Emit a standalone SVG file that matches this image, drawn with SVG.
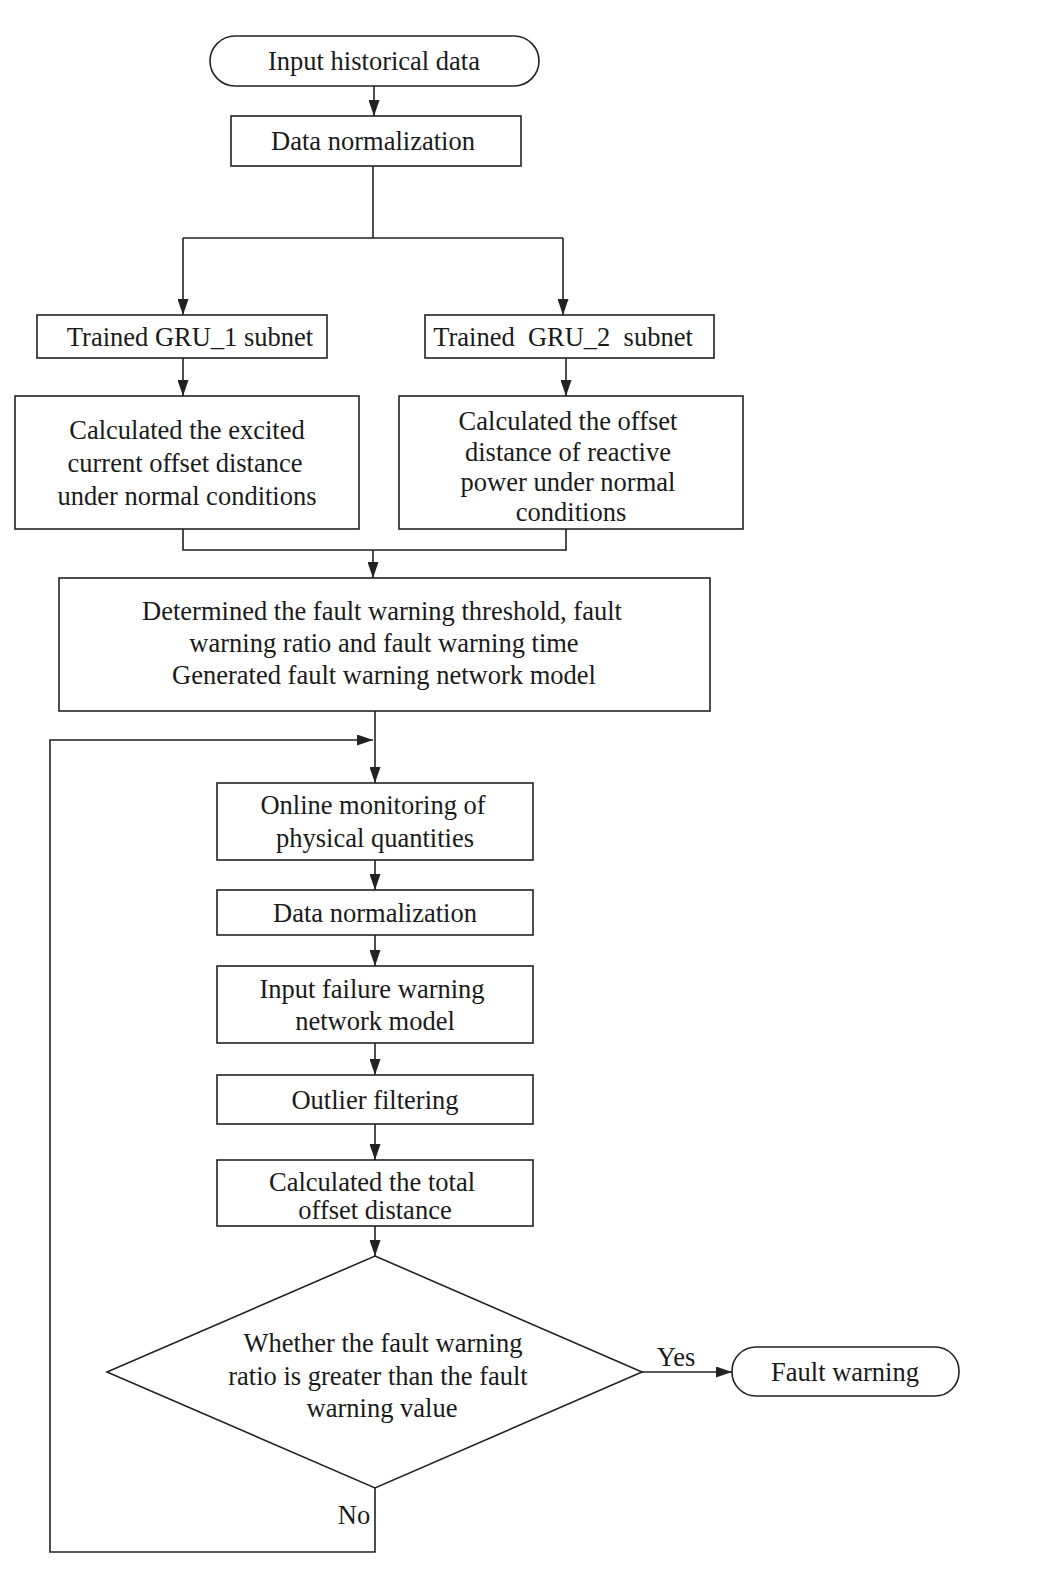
<svg xmlns="http://www.w3.org/2000/svg" width="1042" height="1586" viewBox="0 0 1042 1586">
<style>
.n{fill:#fff;stroke:#222;stroke-width:1.6}
.t{font-family:"Liberation Serif","Times New Roman",serif;font-size:26.5px;fill:#1a1a1a;text-anchor:middle}
.c{fill:none;stroke:#222;stroke-width:1.6}
</style>
<defs>
<marker id="a" viewBox="0 0 16 11" refX="16" refY="5.5" markerWidth="16" markerHeight="11" markerUnits="userSpaceOnUse" orient="auto">
<path d="M0,0 L16,5.5 L0,11 Z" fill="#222"/>
</marker>
</defs>
<rect width="1042" height="1586" fill="#fff"/>
<g id="connectors">
<line class="c" x1="374" y1="86" x2="374" y2="116" marker-end="url(#a)"/>
<polyline class="c" points="373,166 373,238"/>
<polyline class="c" points="183,238 563,238"/>
<line class="c" x1="183" y1="238" x2="183" y2="315" marker-end="url(#a)"/>
<line class="c" x1="563" y1="238" x2="563" y2="315" marker-end="url(#a)"/>
<line class="c" x1="183" y1="358" x2="183" y2="396" marker-end="url(#a)"/>
<line class="c" x1="566" y1="358" x2="566" y2="396" marker-end="url(#a)"/>
<polyline class="c" points="183,529 183,550 566,550 566,529"/>
<line class="c" x1="373" y1="550" x2="373" y2="578" marker-end="url(#a)"/>
<line class="c" x1="375" y1="711" x2="375" y2="783" marker-end="url(#a)"/>
<line class="c" x1="375" y1="860" x2="375" y2="890" marker-end="url(#a)"/>
<line class="c" x1="375" y1="935" x2="375" y2="966" marker-end="url(#a)"/>
<line class="c" x1="375" y1="1043" x2="375" y2="1075" marker-end="url(#a)"/>
<line class="c" x1="375" y1="1124" x2="375" y2="1160" marker-end="url(#a)"/>
<line class="c" x1="375" y1="1226" x2="375" y2="1256" marker-end="url(#a)"/>
<line class="c" x1="642" y1="1372" x2="732" y2="1372" marker-end="url(#a)"/>
<polyline class="c" points="375,1488 375,1552 50,1552 50,740 373,740" marker-end="url(#a)"/>
<text class="t" x="676" y="1366">Yes</text>
<text class="t" x="354" y="1524">No</text>
</g>
<g id="start">
<rect class="n" x="210" y="36" width="329" height="50" rx="25"/>
<text class="t" x="374" y="70">Input historical data</text>
</g>
<g id="norm1">
<rect class="n" x="231" y="116" width="290" height="50"/>
<text class="t" x="373" y="150">Data normalization</text>
</g>
<g id="gru1">
<rect class="n" x="37" y="315" width="290" height="43"/>
<text class="t" x="190" y="346">Trained GRU_1 subnet</text>
</g>
<g id="gru2">
<rect class="n" x="425" y="315" width="289" height="43"/>
<text class="t" x="563" y="346" xml:space="preserve" style="white-space:pre">Trained  GRU_2  subnet</text>
</g>
<g id="calc1">
<rect class="n" x="15" y="396" width="344" height="133"/>
<text class="t" x="187" y="439">Calculated the excited</text>
<text class="t" x="185" y="472">current offset distance</text>
<text class="t" x="187" y="505">under normal conditions</text>
</g>
<g id="calc2">
<rect class="n" x="399" y="396" width="344" height="133"/>
<text class="t" x="568" y="430">Calculated the offset</text>
<text class="t" x="568" y="461">distance of reactive</text>
<text class="t" x="568" y="491">power under normal</text>
<text class="t" x="571" y="521">conditions</text>
</g>
<g id="determine">
<rect class="n" x="59" y="578" width="651" height="133"/>
<text class="t" x="382" y="620">Determined the fault warning threshold, fault</text>
<text class="t" x="384" y="652">warning ratio and fault warning time</text>
<text class="t" x="384" y="684">Generated fault warning network model</text>
</g>
<g id="online">
<rect class="n" x="217" y="783" width="316" height="77"/>
<text class="t" x="373" y="814">Online monitoring of</text>
<text class="t" x="375" y="847">physical quantities</text>
</g>
<g id="norm2">
<rect class="n" x="217" y="890" width="316" height="45"/>
<text class="t" x="375" y="922">Data normalization</text>
</g>
<g id="inputmodel">
<rect class="n" x="217" y="966" width="316" height="77"/>
<text class="t" x="372" y="998">Input failure warning</text>
<text class="t" x="375" y="1030">network model</text>
</g>
<g id="outlier">
<rect class="n" x="217" y="1075" width="316" height="49"/>
<text class="t" x="375" y="1109">Outlier filtering</text>
</g>
<g id="total">
<rect class="n" x="217" y="1160" width="316" height="66"/>
<text class="t" x="372" y="1191">Calculated the total</text>
<text class="t" x="375" y="1219">offset distance</text>
</g>
<g id="decision">
<polygon class="n" points="375,1256 642,1372 375,1488 107,1372"/>
<text class="t" x="383" y="1352">Whether the fault warning</text>
<text class="t" x="378" y="1385">ratio is greater than the fault</text>
<text class="t" x="382" y="1417">warning value</text>
</g>
<g id="fault">
<rect class="n" x="732" y="1347" width="227" height="49" rx="24"/>
<text class="t" x="845" y="1381">Fault warning</text>
</g>
</svg>
